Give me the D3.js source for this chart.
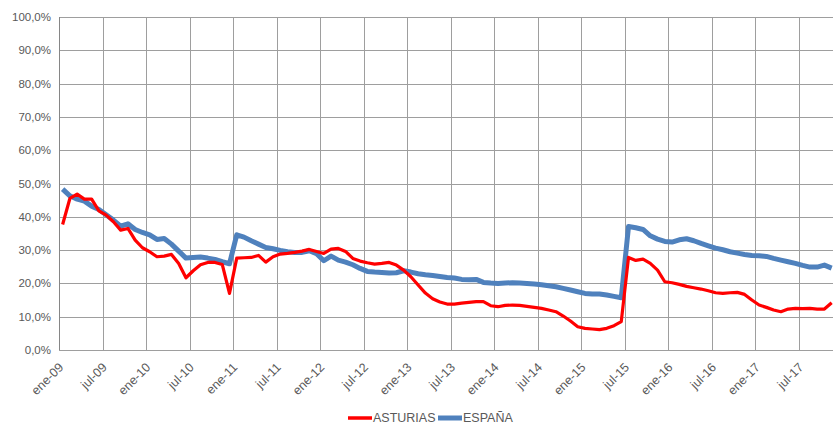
<!DOCTYPE html>
<html>
<head>
<meta charset="utf-8">
<script src="https://cdn.jsdelivr.net/npm/d3@7/dist/d3.min.js"></script>
<style>
  html, body { margin: 0; padding: 0; background: #fff; }
  svg { display: block; }
  text { font-family: "Liberation Sans Narrow", "Arial Narrow", "Liberation Sans", Arial, sans-serif; fill: #595959; }
</style>
</head>
<body>
<svg id="chart" width="833" height="426"></svg>
<script>
// ---- DATA ----
const monthNames = ["ene","feb","mar","abr","may","jun","jul","ago","sep","oct","nov","dic"];
const years = ["09","10","11","12","13","14","15","16","17"];
const months = [];
years.forEach(y => monthNames.forEach(m => months.push(m + "-" + y)));

const tickLabels = ["ene-09","jul-09","ene-10","jul-10","ene-11","jul-11","ene-12","jul-12","ene-13","jul-13","ene-14","jul-14","ene-15","jul-15","ene-16","jul-16","ene-17","jul-17"];
const yTicks = [0,10,20,30,40,50,60,70,80,90,100];

const asturias = [
  37.7,45.5,46.8,45.3,45.3,41.8,40.5,38.5,36.0,36.5,33.0,30.7,
  29.5,28.0,28.2,28.7,26.0,21.7,23.8,25.6,26.3,26.3,25.7,17.0,
  27.6,27.7,27.8,28.4,26.4,28.0,28.8,29.0,29.3,29.7,30.2,29.6,
  29.0,30.3,30.5,29.6,27.5,26.7,26.2,25.8,26.0,26.3,25.5,24.0,
  22.0,19.5,17.1,15.4,14.4,13.8,13.8,14.1,14.3,14.5,14.5,13.3,
  13.0,13.4,13.5,13.4,13.1,12.8,12.5,12.0,11.5,10.2,8.7,7.0,
  6.5,6.3,6.1,6.5,7.3,8.5,27.8,26.9,27.3,26.0,24.0,20.5,
  20.2,19.7,19.1,18.7,18.3,17.8,17.2,17.0,17.2,17.3,16.7,15.0,
  13.5,12.8,12.0,11.5,12.3,12.5,12.4,12.5,12.3,12.3,14.2
];
const espana = [
  48.3,46.3,45.3,44.7,43.2,42.2,40.6,39.0,37.2,37.9,36.2,35.3,
  34.6,33.2,33.5,31.8,29.7,27.6,27.8,27.9,27.6,27.2,26.5,25.9,
  34.6,33.9,32.8,31.8,30.8,30.4,29.9,29.5,29.3,29.3,29.8,28.9,
  26.8,28.2,27.0,26.4,25.6,24.5,23.6,23.4,23.3,23.1,23.2,23.8,
  23.4,22.9,22.6,22.4,22.1,21.8,21.6,21.2,21.1,21.2,20.3,20.1,
  20.0,20.1,20.2,20.1,20.0,19.8,19.6,19.3,19.0,18.5,18.0,17.5,
  17.0,16.8,16.8,16.5,16.1,15.7,37.1,36.7,36.2,34.3,33.3,32.6,
  32.4,33.1,33.4,32.8,32.0,31.3,30.6,30.1,29.5,29.1,28.7,28.4,
  28.3,28.1,27.5,27.0,26.5,26.0,25.4,24.9,24.9,25.5,24.6
];
const seriesNames = ["ASTURIAS","ESPAÑA"];
const seriesColors = ["#ff0000","#4f81bd"];

// ---- LAYOUT ----
const svg = d3.select("#chart");
const plotLeft = 59, plotTop = 17, plotBottom = 350, monthW = 7.255;

const x = d3.scaleBand().domain(months).range([plotLeft, plotLeft + monthW * months.length]).paddingInner(0).paddingOuter(0);
const y = d3.scaleLinear().domain([0, 100]).range([plotBottom, plotTop]);

svg.append("defs").append("clipPath").attr("id", "plotclip")
  .append("rect").attr("x", plotLeft - 3).attr("y", plotTop - 3).attr("width", 833 - plotLeft + 3).attr("height", plotBottom - plotTop + 6);

const grid = svg.append("g");
grid.selectAll("line.h").data(yTicks).enter().append("line")
  .attr("x1", plotLeft).attr("x2", 833)
  .attr("y1", d => Math.round(y(d)) + 0.5).attr("y2", d => Math.round(y(d)) + 0.5)
  .attr("stroke", "#9e9e9e").attr("stroke-width", 1);

grid.selectAll("line.v").data(tickLabels).enter().append("line")
  .attr("x1", d => Math.round(x(d)) + 0.5).attr("x2", d => Math.round(x(d)) + 0.5)
  .attr("y1", plotTop).attr("y2", plotBottom)
  .attr("stroke", "#9e9e9e").attr("stroke-width", 1);

svg.append("line").attr("x1", plotLeft + 0.5).attr("x2", plotLeft + 0.5).attr("y1", plotTop).attr("y2", plotBottom)
  .attr("stroke", "#868686").attr("stroke-width", 1);

svg.append("g").selectAll("text").data(yTicks).enter().append("text")
  .attr("x", 51).attr("y", d => y(d)).attr("dy", "0.35em")
  .attr("text-anchor", "end").attr("font-size", 11.5)
  .text(d => d3.format(".1f")(d).replace(".", ",") + "%");

svg.append("g").selectAll("text").data(tickLabels).enter().append("text")
  .attr("transform", d => `translate(${x(d) + 2},${plotBottom + 15}) rotate(-45)`)
  .attr("text-anchor", "end").attr("font-size", 12.5).attr("dy", "0.35em")
  .text(d => d);

const line = d3.line()
  .x((d, i) => x(months[i]) + x.bandwidth() / 2)
  .y(d => y(d));

const plot = svg.append("g").attr("clip-path", "url(#plotclip)");
plot.append("path").datum(espana)
  .attr("fill", "none").attr("stroke", seriesColors[1]).attr("stroke-width", 5)
  .attr("stroke-linejoin", "round").attr("d", line);
plot.append("path").datum(asturias)
  .attr("fill", "none").attr("stroke", seriesColors[0]).attr("stroke-width", 3.2)
  .attr("stroke-linejoin", "round").attr("d", line);

const legend = svg.append("g");
const legendItems = [
  {name: seriesNames[0], color: seriesColors[0], x: 348, w: 3.5},
  {name: seriesNames[1], color: seriesColors[1], x: 438, w: 5}
];
legendItems.forEach(it => {
  legend.append("line").attr("x1", it.x).attr("x2", it.x + 24).attr("y1", 418).attr("y2", 418)
    .attr("stroke", it.color).attr("stroke-width", it.w);
  legend.append("text").attr("x", it.x + 25).attr("y", 418).attr("dy", "0.35em")
    .attr("font-size", 12.5).text(it.name);
});
</script>
</body>
</html>
